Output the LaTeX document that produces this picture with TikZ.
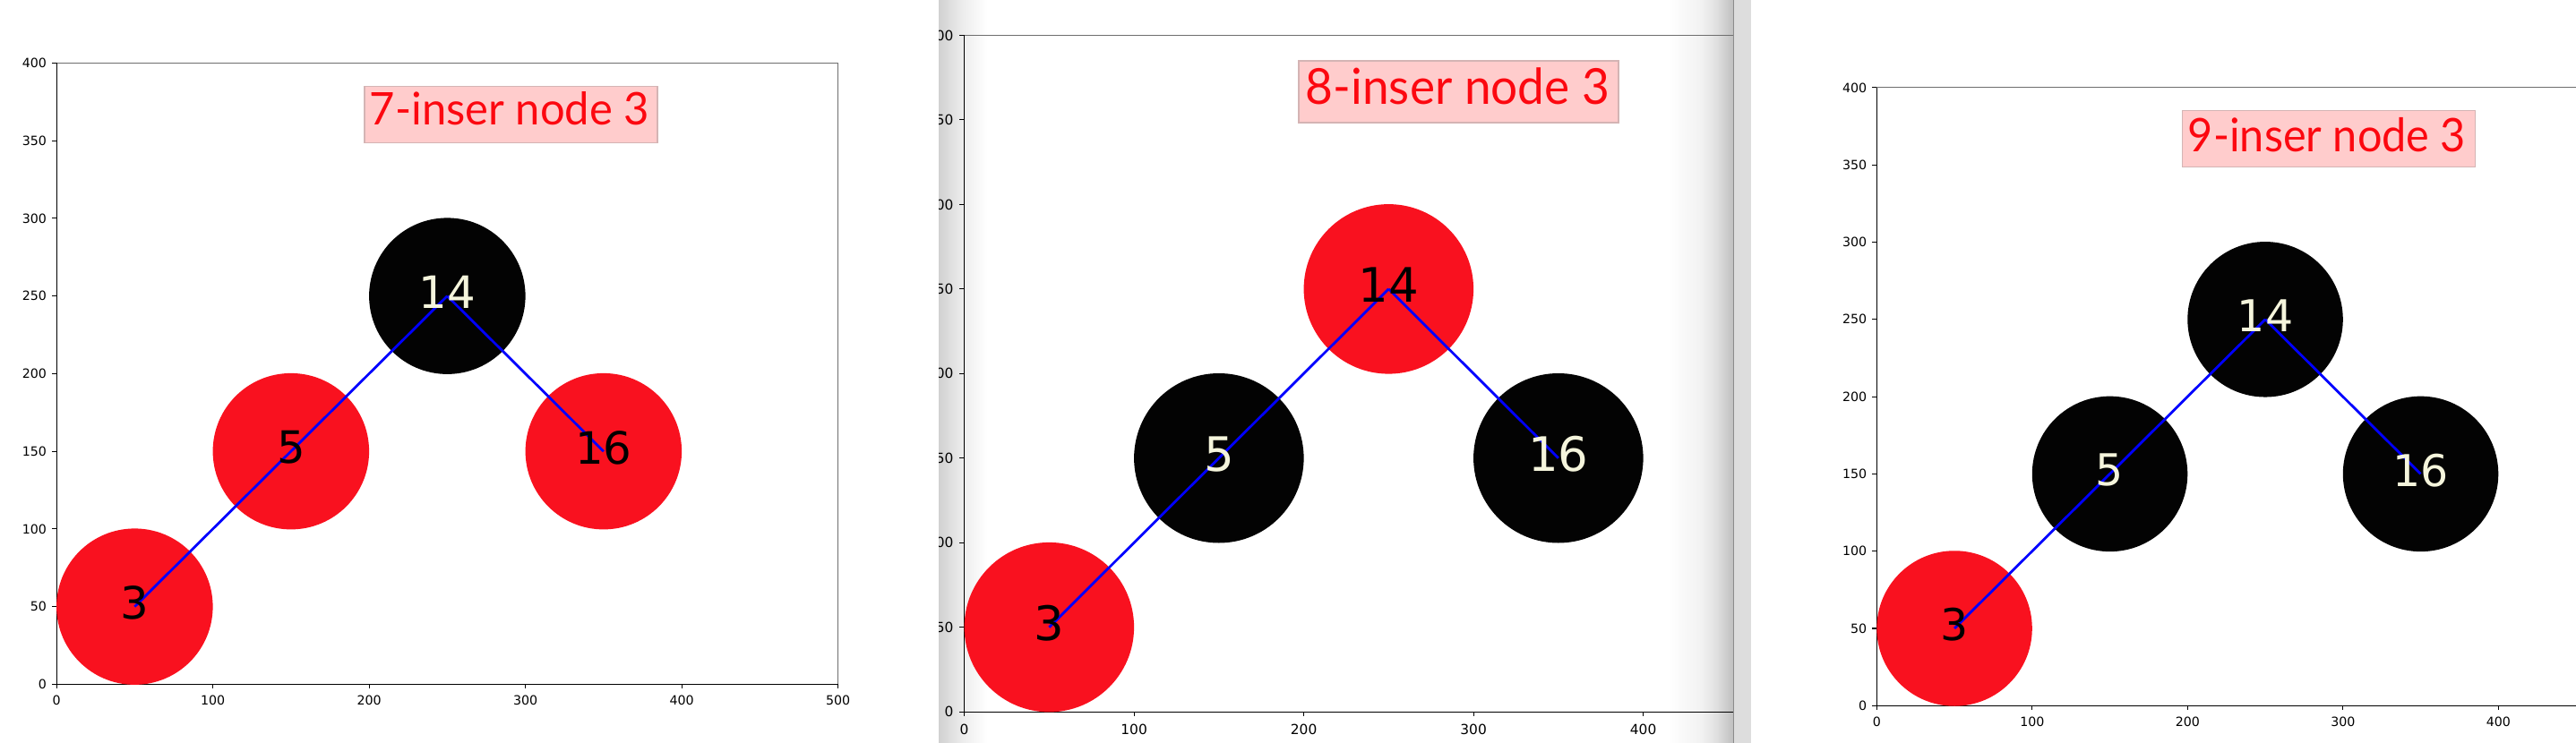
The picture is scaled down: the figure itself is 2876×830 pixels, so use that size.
\documentclass[tikz,border=0pt]{standalone}
\usepackage{fontspec}
\newfontfamily\dejavu{DejaVu Sans}
\newfontfamily\titlefont{Lato}
\definecolor{nodered}{RGB}{249,17,31}
\definecolor{nodeblack}{RGB}{3,3,3}
\definecolor{lightdigit}{RGB}{245,245,220}
\definecolor{titlered}{RGB}{252,8,16}
\definecolor{titlepink}{RGB}{255,204,204}
\definecolor{titleedge}{RGB}{212,180,180}
\definecolor{spinegray}{RGB}{110,110,110}
\definecolor{stripgray}{RGB}{221,221,221}
\definecolor{edgegray}{RGB}{140,140,140}
\pgfdeclarehorizontalshading{leftfade}{100bp}{color(0bp)=(black!18); color(25bp)=(black!18); color(50bp)=(black!7); color(75bp)=(white); color(100bp)=(white)}
\pgfdeclarehorizontalshading{rightfade}{100bp}{color(0bp)=(white); color(25bp)=(white); color(50bp)=(black!5); color(62bp)=(black!12); color(75bp)=(black!25); color(100bp)=(black!25)}
\tikzset{
  rbnode/.style={circle, inner sep=0pt, draw=none},
  rednode/.style={rbnode, fill=nodered},
  blacknode/.style={rbnode, fill=nodeblack},
  treeedge/.style={draw=blue, line width=1.4pt},
  spine/.style={draw=black, line width=0.6pt},
  topspine/.style={draw=spinegray, line width=0.6pt},
  tickmark/.style={draw=black, line width=0.55pt},
  ticklabel/.style={inner sep=0pt, text=black},
  digit/.style={inner sep=0pt},
  titlebox/.style={rectangle, fill=titlepink, draw=titleedge, line width=0.7pt, inner sep=0pt},
  titletext/.style={inner sep=0pt, text=titlered, font=\titlefont},
}
\begin{document}
\begin{tikzpicture}[x=0.5pt, y=-0.5pt]
\useasboundingbox (0,0) rectangle (2876,830);
\fill[white] (0,0) rectangle (2876,830);

% ================= Panel 1 =================
\begin{scope}[shift={(63.1,764.4)}, x=0.8725pt, y=0.8675pt,
  ticklabel/.append style={font=\dejavu\fontsize{7.1pt}{8pt}\selectfont},
  digit/.append style={font=\dejavu\fontsize{24.9pt}{28pt}\selectfont, yshift=2pt}]
  \foreach \v in {0,100,...,500} {
    \draw[tickmark] (\v,0) -- ++(0pt,-2.43pt);
    \node[ticklabel, anchor=north, yshift=-6.2pt] (pax\v) at (\v,0) {\v};
  }
  \foreach \v in {0,50,...,400} {
    \draw[tickmark] (0,\v) -- ++(-2.43pt,0pt);
    \node[ticklabel, anchor=east, xshift=-5.4pt] (pay\v) at (0,\v) {\v};
  }
  \draw[topspine] (0,400) -- (500,400) -- (500,0);
  \draw[spine] (0,400) -- (0,0) -- (500,0);
  \node[blacknode, minimum size=87.25pt] (pa14) at (250,250) {};
  \node[rednode, minimum size=87.25pt] (pa5) at (150,150) {};
  \node[rednode, minimum size=87.25pt] (pa16) at (350,150) {};
  \node[rednode, minimum size=87.25pt] (pa3) at (50,50) {};
  \draw[treeedge] (pa14.center) -- (pa5.center);
  \draw[treeedge] (pa5.center) -- (pa3.center);
  \draw[treeedge] (pa14.center) -- (pa16.center);
  \node[digit, text=lightdigit] (pal14) at (pa14) {14};
  \node[digit, text=black] (pal5) at (pa5) {5};
  \node[digit, text=black] (pal16) at (pa16) {16};
  \node[digit, text=black] (pal3) at (pa3) {3};
\end{scope}
\node[titlebox, minimum width=163.5pt, minimum height=31.5pt] (pabox) at (570.5,127.8) {};
\node[titletext] (patitle) at (569,121.5) {\resizebox{156pt}{18.5pt}{7-inser node 3}};

% ================= Panel 2 =================
\begin{scope}
  \clip (1048,0) rectangle (1935,830);
  \shade[shading=leftfade] (1048,0) rectangle (1102,830);
  \shade[shading=rightfade] (1862,0) rectangle (1935,830);
  \begin{scope}[shift={(1076.6,795.1)}, x=0.9475pt, y=0.9445pt,
    ticklabel/.append style={font=\dejavu\fontsize{7.7pt}{9pt}\selectfont},
    digit/.append style={font=\dejavu\fontsize{26.5pt}{30pt}\selectfont, yshift=2.2pt}]
    \foreach \v in {0,100,...,400} {
      \draw[tickmark] (\v,0) -- ++(0pt,-2.64pt);
      \node[ticklabel, anchor=north, yshift=-6.7pt] (pbx\v) at (\v,0) {\v};
    }
    \foreach \v in {0,50,...,400} {
      \draw[tickmark] (0,\v) -- ++(-2.64pt,0pt);
      \node[ticklabel, anchor=east, xshift=-5.9pt] (pby\v) at (0,\v) {\v};
    }
    \draw[topspine] (0,400) -- (470,400);
    \draw[spine] (0,400) -- (0,0) -- (470,0);
    \node[rednode, minimum size=94.75pt] (pb14) at (250,250) {};
    \node[blacknode, minimum size=94.75pt] (pb5) at (150,150) {};
    \node[blacknode, minimum size=94.75pt] (pb16) at (350,150) {};
    \node[rednode, minimum size=94.75pt] (pb3) at (50,50) {};
    \draw[treeedge] (pb14.center) -- (pb5.center);
    \draw[treeedge] (pb5.center) -- (pb3.center);
    \draw[treeedge] (pb14.center) -- (pb16.center);
    \node[digit, text=black] (pbl14) at (pb14) {14};
    \node[digit, text=lightdigit] (pbl5) at (pb5) {5};
    \node[digit, text=lightdigit] (pbl16) at (pb16) {16};
    \node[digit, text=black] (pbl3) at (pb3) {3};
  \end{scope}
  \node[titlebox, minimum width=178.5pt, minimum height=34.65pt] (pbbox) at (1628.5,102.45) {};
  \node[titletext] (pbtitle) at (1627.5,96.1) {\resizebox{169.5pt}{20.4pt}{8-inser node 3}};
\end{scope}
\fill[stripgray] (1935,0) rectangle (1955,830);
\draw[edgegray, line width=0.8pt] (1935.5,0) -- (1935.5,830);

% ================= Panel 3 =================
\begin{scope}
  \clip (1955,0) rectangle (2876,830);
  \begin{scope}[shift={(2095.3,788.3)}, x=0.8675pt, y=0.863pt,
    ticklabel/.append style={font=\dejavu\fontsize{7.1pt}{8pt}\selectfont},
    digit/.append style={font=\dejavu\fontsize{24.5pt}{28pt}\selectfont, yshift=2pt}]
    \foreach \v in {0,100,...,400} {
      \draw[tickmark] (\v,0) -- ++(0pt,-2.43pt);
      \node[ticklabel, anchor=north, yshift=-6.2pt] (pcx\v) at (\v,0) {\v};
    }
    \foreach \v in {0,50,...,400} {
      \draw[tickmark] (0,\v) -- ++(-2.43pt,0pt);
      \node[ticklabel, anchor=east, xshift=-5.4pt] (pcy\v) at (0,\v) {\v};
    }
    \draw[topspine] (0,400) -- (470,400);
    \draw[spine] (0,400) -- (0,0) -- (470,0);
    \node[blacknode, minimum size=86.75pt] (pc14) at (250,250) {};
    \node[blacknode, minimum size=86.75pt] (pc5) at (150,150) {};
    \node[blacknode, minimum size=86.75pt] (pc16) at (350,150) {};
    \node[rednode, minimum size=86.75pt] (pc3) at (50,50) {};
    \draw[treeedge] (pc14.center) -- (pc5.center);
    \draw[treeedge] (pc5.center) -- (pc3.center);
    \draw[treeedge] (pc14.center) -- (pc16.center);
    \node[digit, text=lightdigit] (pcl14) at (pc14) {14};
    \node[digit, text=lightdigit] (pcl5) at (pc5) {5};
    \node[digit, text=lightdigit] (pcl16) at (pc16) {16};
    \node[digit, text=black] (pcl3) at (pc3) {3};
  \end{scope}
  \node[titlebox, minimum width=163.35pt, minimum height=31.5pt] (pcbox) at (2600,154.8) {};
  \node[titletext] (pctitle) at (2598,150.35) {\resizebox{155pt}{19.05pt}{9-inser node 3}};
\end{scope}
\end{tikzpicture}
\end{document}
